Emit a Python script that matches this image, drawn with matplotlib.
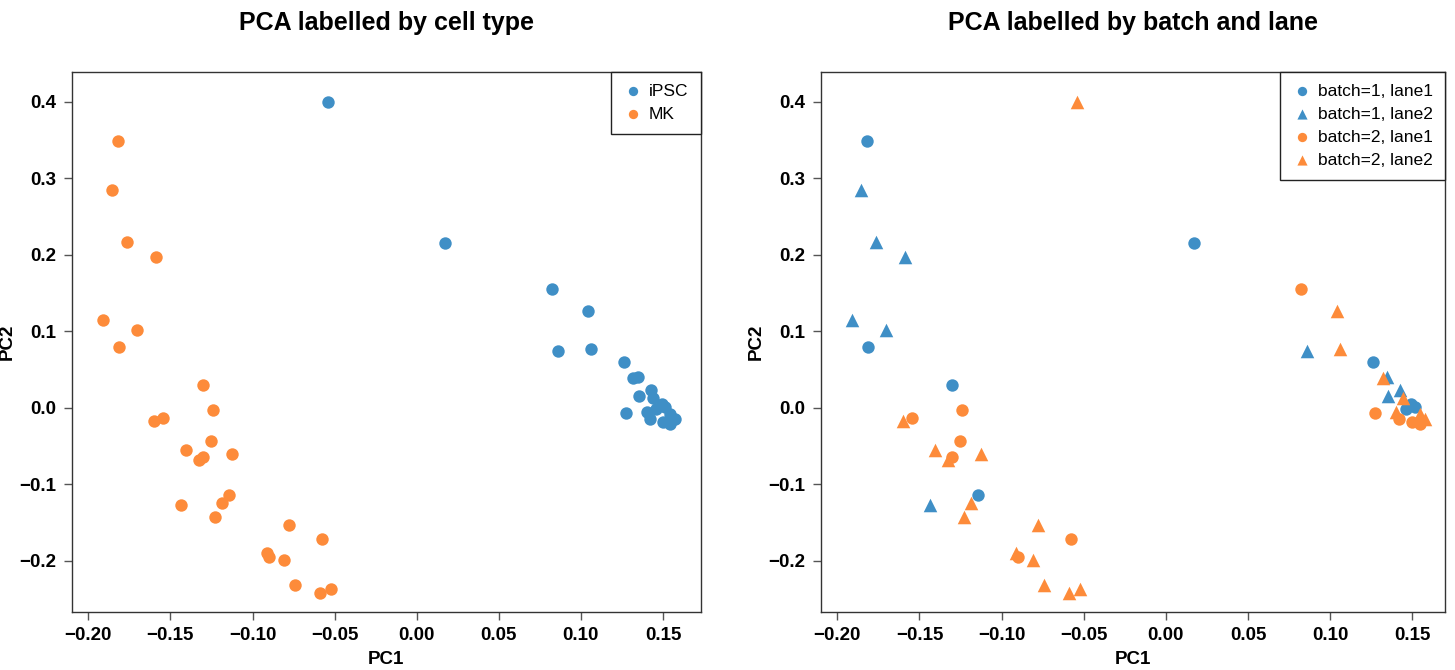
"""
PCA of iPSC / MK cells, coloured by cell type and by batch/lane.
"""

import numpy as np
import matplotlib.pyplot as plt

plt.rcParams['font.family'] = ['Liberation Sans', 'DejaVu Sans']

# ============================================================
# Data
# ============================================================

pc1 = [
    # MK
    -0.1821, -0.1854, -0.1764, -0.1586, -0.1912, -0.1703, -0.1815, -0.1303,
    -0.1598, -0.1545, -0.1242, -0.1253, -0.1403, -0.1326, -0.1300, -0.1125,
    -0.1141, -0.1188, -0.1437, -0.1227, -0.0776, -0.0579, -0.0914, -0.0902,
    -0.0808, -0.0739, -0.0587, -0.0522,
    # iPSC
    -0.0540, 0.0172, 0.0822, 0.1041, 0.0861, 0.1060, 0.1262, 0.1319,
    0.1348, 0.1352, 0.1275, 0.1425, 0.1441, 0.1492, 0.1515, 0.1400,
    0.1422, 0.1498, 0.1545, 0.1575, 0.1545, 0.1460,
]
pc2 = [
    0.348, 0.285, 0.217, 0.197, 0.115, 0.102, 0.079, 0.029,
    -0.0174, -0.0131, -0.003, -0.0435, -0.0557, -0.0684, -0.064, -0.060,
    -0.114, -0.124, -0.127, -0.1425, -0.154, -0.172, -0.190, -0.1948,
    -0.199, -0.232, -0.2418, -0.237,
    0.400, 0.215, 0.1556, 0.126, 0.0745, 0.0763, 0.0597, 0.0384,
    0.0405, 0.0149, -0.0073, 0.0231, 0.0123, 0.0045, 0.0010, -0.0052,
    -0.0152, -0.0183, -0.0213, -0.0150, -0.0080, -0.0020,
]
cell_type = ["MK"] * 28 + ["iPSC"] * 22
batch = [
    1, 1, 1, 1, 1, 1, 1, 1,
    2, 2, 2, 2, 2, 2, 2, 2,
    1, 2, 1, 2, 2, 2, 2, 2,
    2, 2, 2, 2,
    2, 1, 2, 2, 1, 2, 1, 2,
    1, 1, 2, 1, 2, 1, 1, 2,
    2, 2, 2, 2, 2, 1,
]
lane = [
    1, 2, 2, 2, 2, 2, 1, 1,
    2, 1, 1, 1, 2, 2, 1, 2,
    1, 2, 2, 2, 2, 1, 2, 1,
    2, 2, 2, 2,
    2, 1, 1, 2, 2, 2, 1, 2,
    2, 2, 1, 2, 2, 1, 1, 2,
    1, 1, 1, 2, 2, 1,
]

cell_types = ["iPSC", "MK"]
groups = [(1, 1), (1, 2), (2, 1), (2, 2)]
x_ticks = [-0.20, -0.15, -0.10, -0.05, 0.00, 0.05, 0.10, 0.15]
y_ticks = [-0.2, -0.1, 0.0, 0.1, 0.2, 0.3, 0.4]

BLUE = "#3F8FC6"
ORANGE = "#FD8B3A"
group_colors = {1: BLUE, 2: ORANGE}
lane_markers = {1: "o", 2: "^"}

pc1 = np.array(pc1)
pc2 = np.array(pc2)
cell_type = np.array(cell_type)
batch = np.array(batch)
lane = np.array(lane)


# ============================================================
# Axis styling (R base-graphics look)
# ============================================================

def fmt(t, nd):
    s = f"{t:.{nd}f}"
    if float(s) == 0:
        s = s.lstrip("-")
    return s.replace("-", "\u2212")


def style_axes(ax, xlim):
    ax.set_xlim(*xlim)
    ax.set_ylim(-0.2667, 0.4392)
    ax.set_xticks(x_ticks)
    ax.set_xticklabels([fmt(t, 2) for t in x_ticks])
    ax.set_yticks(y_ticks)
    ax.set_yticklabels([fmt(t, 1) for t in y_ticks])
    ax.tick_params(direction="out", length=6, width=1, color="#555555",
                   labelsize=13.5, pad=5)
    for lab in ax.get_xticklabels() + ax.get_yticklabels():
        lab.set_fontweight("bold")
    for s in ax.spines.values():
        s.set_linewidth(1)
        s.set_color("#333333")
    ax.set_xlabel("PC1", fontsize=13.5, fontweight="bold", labelpad=5)
    ax.set_ylabel("PC2", fontsize=13.5, fontweight="bold", labelpad=3)


def add_legend(ax):
    leg = ax.legend(loc="upper right", borderaxespad=0, fancybox=False,
                    edgecolor="#222222", framealpha=1, fontsize=12.5,
                    handletextpad=0.3, borderpad=0.7, markerscale=0.75,
                    handlelength=1.2, labelspacing=0.45)
    leg.get_frame().set_linewidth(1)


fig = plt.figure(figsize=(14.55, 6.7), dpi=100)
ax1 = fig.add_axes([0.0493, 0.0870, 0.4323, 0.8060])
ax2 = fig.add_axes([0.5641, 0.0870, 0.4291, 0.8060])

# ============================================================
# Left: by cell type
# ============================================================

ct_colors = {"iPSC": BLUE, "MK": ORANGE}
for ct in cell_types:
    m = cell_type == ct
    ax1.scatter(pc1[m], pc2[m], s=80, color=ct_colors[ct], marker="o",
                linewidths=0, label=ct)
style_axes(ax1, (-0.2101, 0.1730))
ax1.set_title("PCA labelled by cell type", fontsize=18, fontweight="bold", pad=30)
add_legend(ax1)

# ============================================================
# Right: by batch and lane
# ============================================================

for b, l in groups:
    m = (batch == b) & (lane == l)
    ax2.scatter(pc1[m], pc2[m], s=80 if l == 1 else 95,
                color=group_colors[b], marker=lane_markers[l],
                linewidths=0, label=f"batch={b}, lane{l}")
style_axes(ax2, (-0.2101, 0.1700))
ax2.set_title("PCA labelled by batch and lane", fontsize=18, fontweight="bold", pad=30)
add_legend(ax2)

fig.savefig("out.png", dpi=100)
